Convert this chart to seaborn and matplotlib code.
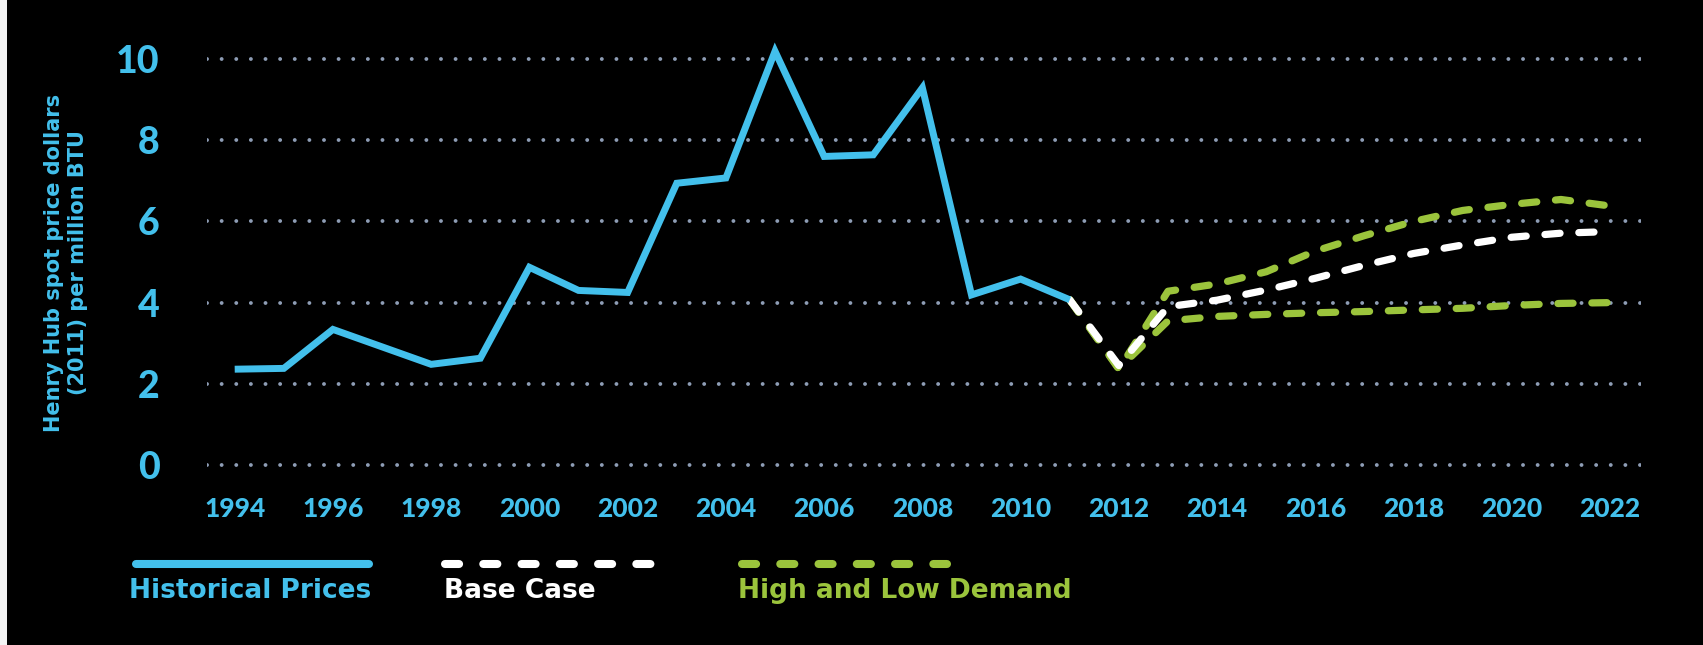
import matplotlib
matplotlib.use("Agg")
import matplotlib.pyplot as plt
import seaborn as sns
import pandas as pd
from matplotlib.lines import Line2D
from matplotlib.patches import Rectangle

# ---------------- data ----------------
hist_years = list(range(1994, 2012))
hist_prices = [2.36, 2.38, 3.34, 2.91, 2.48, 2.63, 4.87, 4.30, 4.25, 6.94,
               7.07, 10.19, 7.60, 7.64, 9.29, 4.19, 4.58, 4.07]

fc_years = list(range(2011, 2023))
base_case = [4.07, 2.45, 3.90, 4.06, 4.31, 4.60, 4.92, 5.21, 5.42, 5.61, 5.71, 5.75]
high_demand = [4.07, 2.36, 4.28, 4.46, 4.76, 5.27, 5.65, 6.00, 6.27, 6.42, 6.54, 6.38]
low_demand = [4.07, 2.38, 3.55, 3.66, 3.71, 3.75, 3.78, 3.82, 3.86, 3.93, 3.98, 4.00]

x_ticks = list(range(1994, 2023, 2))
y_ticks = [0, 2, 4, 6, 8, 10]
legend_labels = ["Historical Prices", "Base Case", "High and Low Demand"]
y_label = "Henry Hub spot price dollars\n(2011) per million BTU"

# ---------------- style ----------------
BLUE = "#43C0EC"
GREEN = "#9BC43C"
WHITE = "#FFFFFF"
GRID = "#8E9DB5"
TEXT_FONT = "DejaVu Sans"
NUM_FONT = "Lato"

sns.set_theme(style="white")
plt.rcParams["font.family"] = [TEXT_FONT]

W, H = 1703, 645
fig = plt.figure(figsize=(W / 100, H / 100), dpi=100, facecolor="black")
fig.patches.append(Rectangle((0, 0), 7 / W, 1, transform=fig.transFigure,
                             facecolor="#F4F4F4", edgecolor="none", zorder=-5))

ax = fig.add_axes([207 / W, (H - 477.2) / H, (1641 - 207) / W, (477.2 - 38.7) / H])
ax.set_facecolor("black")

df_hist = pd.DataFrame({"year": hist_years, "price": hist_prices})
df_fc = pd.DataFrame({"year": fc_years, "base": base_case,
                      "high": high_demand, "low": low_demand})

dash = (0, (2.1, 2.6))
sns.lineplot(data=df_fc, x="year", y="high", ax=ax, color=GREEN, linewidth=5.2,
             linestyle=dash, dash_capstyle="round", dash_joinstyle="round", zorder=2)
sns.lineplot(data=df_fc, x="year", y="low", ax=ax, color=GREEN, linewidth=5.2,
             linestyle=dash, dash_capstyle="round", dash_joinstyle="round", zorder=2)
sns.lineplot(data=df_fc, x="year", y="base", ax=ax, color=WHITE, linewidth=5.2,
             linestyle=dash, dash_capstyle="round", dash_joinstyle="round", zorder=3)
sns.lineplot(data=df_hist, x="year", y="price", ax=ax, color=BLUE, linewidth=5,
             solid_joinstyle="miter", solid_capstyle="butt", zorder=4)

ax.set_xlim(1993.436, 2022.63)
ax.set_ylim(-0.3, 10.5)
ax.set_xlabel("")
ax.set_ylabel("")
for s in ax.spines.values():
    s.set_visible(False)

ax.set_yticks(y_ticks)
ax.set_yticklabels([str(v) for v in y_ticks], fontfamily=NUM_FONT,
                   fontweight="black", fontsize=27, color=BLUE)
ax.set_xticks(x_ticks)
ax.set_xticklabels([str(v) for v in x_ticks], fontfamily=NUM_FONT,
                   fontweight="black", fontsize=19, color=BLUE)
ax.tick_params(axis="y", length=0, pad=34)
ax.tick_params(axis="x", length=0, pad=14)

ax.set_axisbelow(True)
ax.grid(False)
ax.yaxis.grid(True, color=GRID, linewidth=2.8, linestyle=(0, (0.01, 3.75)),
              dash_capstyle="round")

fig.text(66 / W, 1 - 263 / H, y_label, rotation=90, ha="center", va="center",
         multialignment="center", color=BLUE, fontsize=15, fontweight="bold",
         family=TEXT_FONT, linespacing=1.25)

# ---------------- legend ----------------
ly = 1 - 564 / H
fig.add_artist(Line2D([136 / W, 369 / W], [ly, ly], color=BLUE, lw=5.8,
                      solid_capstyle="round"))
fig.add_artist(Line2D([445 / W, 654 / W], [ly, ly], color=WHITE, lw=5.8,
                      linestyle=(0, (1.75, 3.0)), dash_capstyle="round"))
fig.add_artist(Line2D([742 / W, 947 / W], [ly, ly], color=GREEN, lw=5.8,
                      linestyle=(0, (1.75, 3.0)), dash_capstyle="round"))
ty = 1 - 598 / H
for xpx, lbl, col in zip([129, 444, 738], legend_labels, [BLUE, WHITE, GREEN]):
    fig.text(xpx / W, ty, lbl, ha="left", va="baseline", color=col,
             fontsize=19, fontweight="bold", family=TEXT_FONT)

fig.savefig("out.png", dpi=100, facecolor="black")
